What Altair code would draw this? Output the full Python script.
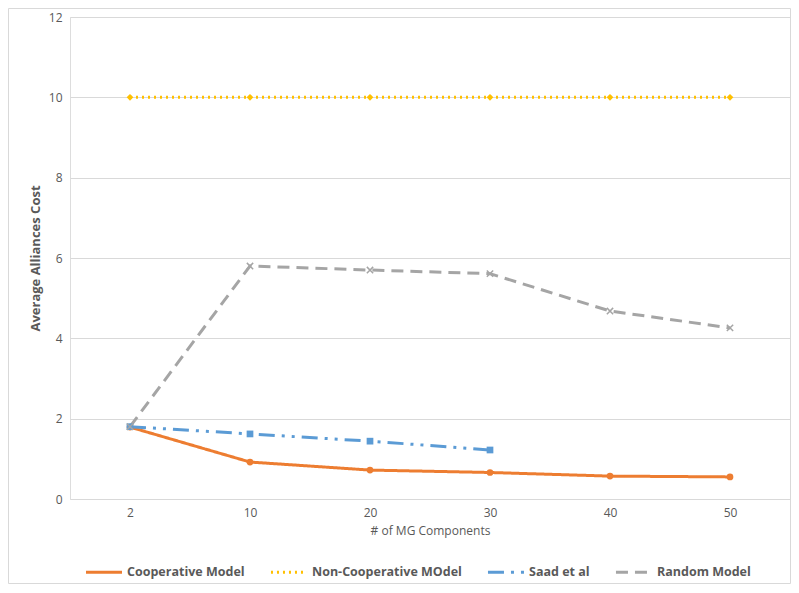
import altair as alt
import pandas as pd

categories = ["2", "10", "20", "30", "40", "50"]
series_names = ["Cooperative Model", "Non-Cooperative MOdel", "Saad et al", "Random Model"]
cooperative = [1.79, 0.92, 0.72, 0.66, 0.57, 0.55]
non_cooperative = [10, 10, 10, 10, 10, 10]
saad = [1.80, 1.62, 1.44, 1.22]
random_model = [1.80, 5.80, 5.70, 5.61, 4.68, 4.26]

colors = ["#ED7D31", "#FFC000", "#5B9BD5", "#A5A5A5"]
dashes = [[1, 0], [2, 4], [16, 7, 3, 7, 3, 7], [12, 7]]

rows = []
for name, vals in zip(series_names, [cooperative, non_cooperative, saad, random_model]):
    for c, v in zip(categories, vals):
        rows.append({"cat": c, "value": v, "series": name})
df = pd.DataFrame(rows)

FONT = "Open Sans"

x_enc = alt.X("cat:O", sort=categories, scale=alt.Scale(type="point", padding=0.5),
              axis=alt.Axis(title="# of MG Components", labelAngle=0, domain=False, ticks=False,
                            labelPadding=8, titlePadding=7, labelFontSize=12, titleFontSize=12,
                            labelColor="#595959", titleColor="#595959", titleFontWeight="normal"))
y_enc = alt.Y("value:Q", scale=alt.Scale(domain=[0, 12], nice=False),
              axis=alt.Axis(title="Average Alliances Cost", values=[0, 2, 4, 6, 8, 10, 12],
                            domain=False, ticks=False, labelPadding=8, titlePadding=6,
                            gridColor="#d9d9d9", labelFontSize=12, titleFontSize=13,
                            labelColor="#595959", titleColor="#595959", titleFontWeight="bold"))

color_scale = alt.Scale(domain=series_names, range=colors)

base = alt.Chart(df)

lines = base.mark_line(strokeWidth=3).encode(
    x=x_enc, y=y_enc,
    color=alt.Color("series:N", scale=color_scale, sort=series_names,
                    legend=alt.Legend(title=None, orient="none", direction="horizontal",
                                      legendX=14, legendY=535, symbolType="stroke",
                                      symbolSize=1300, symbolStrokeWidth=3,
                                      columnPadding=19, labelFontSize=12.5, labelFontWeight="bold",
                                      labelColor="#595959", labelOffset=3)),
    strokeDash=alt.StrokeDash("series:N", scale=alt.Scale(domain=series_names, range=dashes),
                              sort=series_names, legend=None),
)

pts = base.transform_filter(alt.datum.series != "Random Model").mark_point(filled=True, opacity=1).encode(
    x=x_enc, y=y_enc,
    color=alt.Color("series:N", scale=color_scale, legend=None),
    shape=alt.Shape("series:N", scale=alt.Scale(domain=series_names[:3], range=["circle", "diamond", "square"]), legend=None),
    size=alt.Size("series:N", scale=alt.Scale(domain=series_names[:3], range=[45, 45, 60]), legend=None),
)

xpts = base.transform_filter(alt.datum.series == "Random Model").mark_point(
    shape="M-1,-1L1,1M-1,1L1,-1", filled=False, size=40, strokeWidth=1.5, color="#A5A5A5", opacity=1
).encode(x=x_enc, y=y_enc)

border = alt.Chart(alt.Data(values=[{}])).mark_rect(fill=None, stroke="#d9d9d9", strokeWidth=1).encode(
    x=alt.value(-61.5), x2=alt.value(720.5), y=alt.value(-8.5), y2=alt.value(566.5)
)

chart = alt.layer(border, lines, pts, xpts).properties(
    width=720, height=482,
    autosize=alt.AutoSizeParams(type="none"),
    padding={"left": 62, "top": 9, "right": 1, "bottom": 85},
).configure_view(stroke=None).configure(font=FONT)

chart.save("out.html", embed_options={"renderer": "svg", "actions": False})
